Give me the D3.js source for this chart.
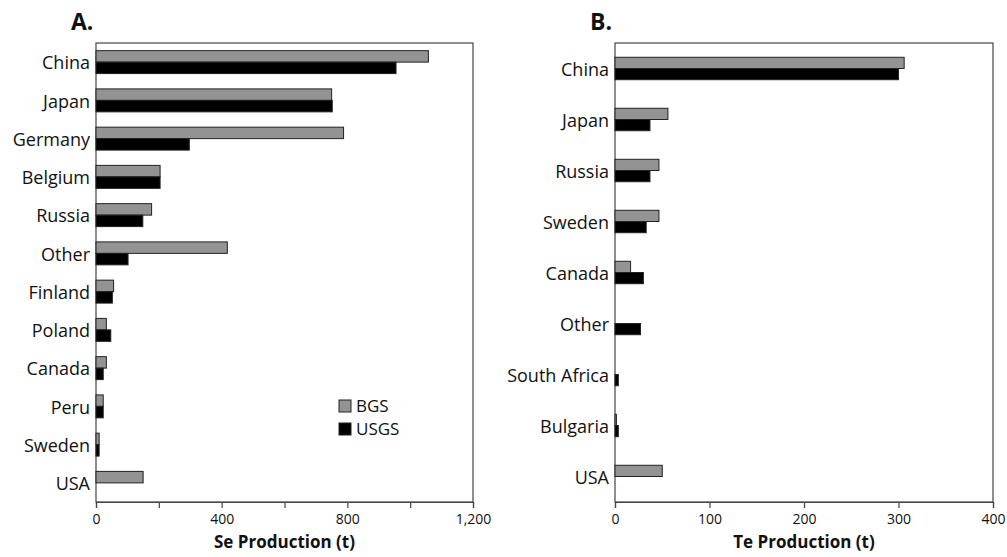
<!DOCTYPE html>
<html>
<head>
<meta charset="utf-8">
<script src="https://cdn.jsdelivr.net/npm/d3@7"></script>
<style>
  body { margin: 0; background: #fff; }
  svg text { font-family: "Open Sans", sans-serif; fill: #111; }
</style>
</head>
<body>
<svg id="chart" width="1007" height="557"></svg>
<script>
// panel A - selenium
const seCountries = ["China", "Japan", "Germany", "Belgium", "Russia", "Other", "Finland", "Poland", "Canada", "Peru", "Sweden", "USA"];
const seBGS  = [1058, 750, 788, 204, 177, 418, 56, 33, 33, 23, 10, 150];
const seUSGS = [955, 752, 297, 204, 149, 102, 52, 47, 23, 23, 10, 0];
const seTicks = [0, 200, 400, 600, 800, 1000, 1200];
const seLabels = { 0: "0", 400: "400", 800: "800", 1200: "1,200" };

// panel B - tellurium
const teCountries = ["China", "Japan", "Russia", "Sweden", "Canada", "Other", "South Africa", "Bulgaria", "USA"];
const teBGS  = [306, 56, 46.5, 46.5, 16.5, 0, 0, 1.5, 50];
const teUSGS = [300, 37, 37, 33, 30, 27, 3.5, 3.5, 0];
const teTicks = [0, 100, 200, 300, 400];

const seriesNames = ["BGS", "USGS"];
const colors = { BGS: "#939393", USGS: "#000000" };

const svg = d3.select("#chart");

function panel(opts) {
  const { left, top, right, bottom, cats, bgs, usgs, max, ticks, fmt, title, xTitle, barFrac } = opts;
  const x = d3.scaleLinear().domain([0, max]).range([left, right]);
  const y = d3.scaleBand().domain(cats).range([top, bottom]).padding(0);

  const g = svg.append("g");

  // frame
  g.append("rect")
    .attr("x", left).attr("y", top)
    .attr("width", right - left).attr("height", bottom - top)
    .attr("fill", "none").attr("stroke", "#444").attr("stroke-width", 1.2);

  const rows = cats.map((c, i) => ({ c, bgs: bgs[i], usgs: usgs[i] }));
  const bh = y.bandwidth() * barFrac;
  const mid = d => y(d) + y.bandwidth() / 2;

  // BGS bars (grey, on top)
  g.selectAll(".bgs").data(rows.filter(d => d.bgs > 0)).enter().append("rect")
    .attr("x", x(0))
    .attr("y", d => mid(d.c) - bh)
    .attr("width", d => x(d.bgs) - x(0))
    .attr("height", bh)
    .attr("fill", colors.BGS)
    .attr("stroke", "#222").attr("stroke-width", 1);

  // USGS bars (black, below)
  g.selectAll(".usgs").data(rows.filter(d => d.usgs > 0)).enter().append("rect")
    .attr("x", x(0))
    .attr("y", d => mid(d.c))
    .attr("width", d => x(d.usgs) - x(0))
    .attr("height", bh)
    .attr("fill", colors.USGS)
    .attr("stroke", "#222").attr("stroke-width", 1);

  // category labels
  g.selectAll(".cat").data(cats).enter().append("text")
    .attr("x", left - 6)
    .attr("y", d => mid(d) + 1)
    .attr("dy", "0.35em")
    .attr("text-anchor", "end")
    .style("font-size", "18px")
    .text(d => d);

  // x axis
  const ax = g.append("g")
    .attr("transform", `translate(0,${bottom})`)
    .call(d3.axisBottom(x).tickValues(ticks).tickSize(6).tickFormat(fmt));
  ax.select(".domain").attr("stroke", "#444").attr("stroke-width", 1.2);
  ax.selectAll(".tick line").attr("stroke", "#444").attr("stroke-width", 1.2);
  ax.selectAll(".tick text").attr("y", 12).style("font-size", "14px").style("font-family", "Open Sans, sans-serif").attr("fill", "#111");

  g.append("text")
    .attr("x", (left + right) / 2).attr("y", bottom + 46)
    .attr("text-anchor", "middle")
    .style("font-size", "17px").style("font-weight", "bold")
    .text(xTitle);

  g.append("text")
    .attr("x", left - 25).attr("y", 30)
    .style("font-size", "23px").style("font-weight", "bold")
    .text(title);

  return { x, y };
}

panel({
  left: 96, top: 43, right: 473, bottom: 502,
  cats: seCountries, bgs: seBGS, usgs: seUSGS, max: 1200,
  ticks: seTicks, fmt: d => seLabels[d] || "",
  title: "A.", xTitle: "Se Production (t)", barFrac: 0.3
});

panel({
  left: 615, top: 43, right: 993, bottom: 502,
  cats: teCountries, bgs: teBGS, usgs: teUSGS, max: 400,
  ticks: teTicks, fmt: d3.format("d"),
  title: "B.", xTitle: "Te Production (t)", barFrac: 0.22
});

// legend
const legend = svg.append("g").attr("transform", "translate(339,400)");
seriesNames.forEach((s, i) => {
  const row = legend.append("g").attr("transform", `translate(0,${i * 23})`);
  row.append("rect").attr("width", 12).attr("height", 12)
    .attr("fill", colors[s]).attr("stroke", "#222").attr("stroke-width", 1);
  row.append("text").attr("x", 17).attr("y", 6).attr("dy", "0.35em")
    .style("font-size", "17px").text(s);
});
</script>
</body>
</html>
